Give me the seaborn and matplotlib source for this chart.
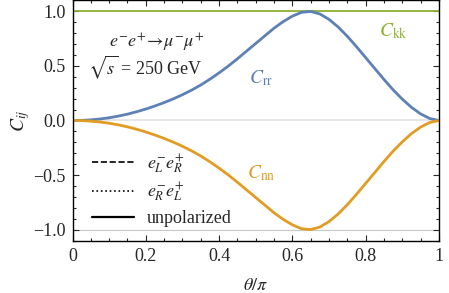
import numpy as np
import pandas as pd
import matplotlib.pyplot as plt
import seaborn as sns
from matplotlib.lines import Line2D
from matplotlib.ticker import MultipleLocator, FixedLocator

# theta/pi grid and C_rr values (C_nn = -C_rr, C_kk = 1)
theta = [0.000, 0.025, 0.050, 0.075, 0.100, 0.125, 0.150, 0.175, 0.200, 0.225,
         0.250, 0.275, 0.300, 0.325, 0.350, 0.375, 0.400, 0.425, 0.450, 0.475,
         0.500, 0.525, 0.550, 0.575, 0.600, 0.625, 0.650, 0.675, 0.700, 0.725,
         0.750, 0.775, 0.800, 0.825, 0.850, 0.875, 0.900, 0.925, 0.950, 0.975,
         1.000]
c_rr = [0.000, 0.001, 0.006, 0.014, 0.025, 0.040, 0.058, 0.080, 0.105, 0.133,
        0.164, 0.198, 0.236, 0.278, 0.325, 0.378, 0.436, 0.498, 0.565, 0.635,
        0.705, 0.775, 0.845, 0.905, 0.955, 0.990, 0.998, 0.975, 0.925, 0.855,
        0.770, 0.675, 0.575, 0.475, 0.375, 0.280, 0.195, 0.120, 0.060, 0.018,
        0.000]
c_nn = [-v for v in c_rr]
c_kk = [1.0] * len(theta)

colors = {'kk': '#8FB032', 'rr': '#5E81B5', 'nn': '#E19C24'}

sns.set_style('ticks')
plt.rcParams['font.family'] = ['Liberation Serif', 'DejaVu Serif']
plt.rcParams['mathtext.fontset'] = 'stix'
plt.rcParams['axes.unicode_minus'] = True

df = pd.DataFrame({'theta': theta, 'rr': c_rr, 'nn': c_nn, 'kk': c_kk})

fig = plt.figure(figsize=(4.49, 2.93), dpi=100)
ax = fig.add_axes([0.1615, 0.1785, 0.8162, 0.8205])

# light reference lines
ax.axhline(0, color='#e6e6e6', lw=1.4, zorder=0)
ax.axhline(-1, color='#c8c8c8', lw=0.8, zorder=0)

sns.lineplot(data=df, x='theta', y='kk', color=colors['kk'], lw=1.3, ax=ax)
sns.lineplot(data=df, x='theta', y='rr', color=colors['rr'], lw=2.0, ax=ax)
sns.lineplot(data=df, x='theta', y='nn', color=colors['nn'], lw=2.0, ax=ax)

ax.set_xlim(0, 1)
ax.set_ylim(-1.1, 1.1)

ax.xaxis.set_major_locator(FixedLocator([0, 0.2, 0.4, 0.6, 0.8, 1.0]))
ax.set_xticklabels(['0', '0.2', '0.4', '0.6', '0.8', '1'])
ax.xaxis.set_minor_locator(MultipleLocator(0.05))
ax.yaxis.set_major_locator(FixedLocator([-1.0, -0.5, 0.0, 0.5, 1.0]))
ax.set_yticklabels(['\u22121.0', '\u22120.5', '0.0', '0.5', '1.0'])
ax.yaxis.set_minor_locator(MultipleLocator(0.1))
ax.tick_params(which='both', direction='in', top=True, right=True,
               labelsize=13, width=0.8, pad=5)
ax.tick_params(which='major', length=4)
ax.tick_params(which='minor', length=2.2)
for s in ax.spines.values():
    s.set_linewidth(1.0)
    s.set_color('black')

ax.set_xlabel(r'$\theta/\pi$', fontsize=13, labelpad=9)
ax.set_ylabel(r'$C_{ij}$', fontsize=14, labelpad=1)

ax.text(0.23, 0.715, r'$e^{-}e^{+}\!\rightarrow\!\mu^{-}\mu^{+}$',
        fontsize=13, ha='center', va='center')
ax.text(0.2, 0.49, r'$\sqrt{s}$ = 250 GeV', fontsize=13, ha='center', va='center')

ax.text(0.515, 0.39, r'$C_{\rm rr}$', color=colors['rr'], fontsize=14,
        ha='center', va='center')
ax.text(0.875, 0.82, r'$C_{\rm kk}$', color=colors['kk'], fontsize=14,
        ha='center', va='center')
ax.text(0.515, -0.48, r'$C_{\rm nn}$', color=colors['nn'], fontsize=14,
        ha='center', va='center')

handles = [Line2D([], [], color='black', ls='--', lw=1.2),
           Line2D([], [], color='black', ls=':', lw=1.2),
           Line2D([], [], color='black', ls='-', lw=1.6)]
labels = [r'$e^{-}_{L}e^{+}_{R}$', r'$e^{-}_{R}e^{+}_{L}$', 'unpolarized']
ax.legend(handles, labels, loc='lower left', bbox_to_anchor=(0.01, -0.01),
          frameon=False, fontsize=13, handlelength=2.3, handletextpad=0.7,
          labelspacing=0.3)

fig.savefig('out.png', dpi=100)
